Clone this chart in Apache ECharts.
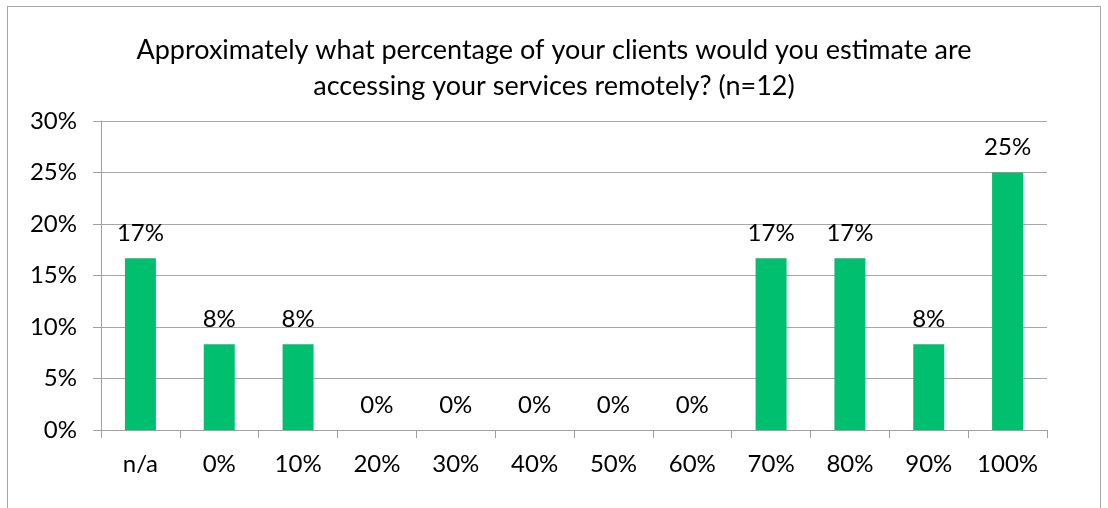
<!DOCTYPE html>
<html>
<head>
<meta charset="utf-8">
<script src="https://cdn.jsdelivr.net/npm/echarts@6/dist/echarts.min.js"></script>
<style>
  html, body { margin: 0; padding: 0; background: #fff; }
  #frame { position: absolute; left: 7px; top: 6px; width: 1094px; height: 520px; border: 1px solid #a6a6a6; box-sizing: border-box; }
  #chart { position: absolute; left: 0; top: 0; width: 1108px; height: 508px; }
</style>
</head>
<body>
<div id="frame"></div>
<div id="chart"></div>
<script>
// Share of clients accessing services remotely, by response bucket (n=12)
const categories = ['n/a', '0%', '10%', '20%', '30%', '40%', '50%', '60%', '70%', '80%', '90%', '100%'];
const responseCounts = [2, 1, 1, 0, 0, 0, 0, 0, 2, 2, 1, 3];
const respondents = 12;
const sharePercent = responseCounts.map(c => c / respondents * 100);
const yTicks = [0, 5, 10, 15, 20, 25, 30];

const titleText = 'Approximately what percentage of your clients would you estimate are\naccessing your services remotely? (n=12)';
const FONT = 'Lato, "Open Sans", sans-serif';

const chart = echarts.init(document.getElementById('chart'), null, { renderer: 'canvas' });
chart.setOption({
  animation: false,
  backgroundColor: 'transparent',
  title: {
    text: titleText,
    left: 'center',
    top: 27,
    textStyle: { fontFamily: FONT, fontSize: 27, fontWeight: 'normal', color: '#000', lineHeight: 36 }
  },
  grid: { left: 101, right: 61, top: 121, bottom: 78 },
  xAxis: {
    type: 'category',
    data: categories,
    axisLine: { lineStyle: { color: '#a0a0a0', width: 1 } },
    axisTick: { show: true, interval: 0, length: 8, alignWithLabel: false, lineStyle: { color: '#a0a0a0' } },
    axisLabel: { interval: 0, fontFamily: FONT, fontSize: 24, color: '#000', margin: 22 }
  },
  yAxis: {
    type: 'value',
    min: yTicks[0],
    max: yTicks[yTicks.length - 1],
    interval: yTicks[1] - yTicks[0],
    axisLine: { show: true, lineStyle: { color: '#a0a0a0', width: 1 } },
    axisTick: { show: true, length: 8, lineStyle: { color: '#a0a0a0' } },
    splitLine: { lineStyle: { color: '#a6a6a6', width: 1 } },
    axisLabel: { fontFamily: FONT, fontSize: 24, color: '#000', margin: 24, formatter: v => v + '%' }
  },
  series: [{
    type: 'bar',
    data: sharePercent,
    barWidth: 31,
    itemStyle: { color: '#00bf6f' },
    label: {
      show: true,
      position: 'top',
      distance: 13,
      fontFamily: FONT,
      fontSize: 24,
      color: '#000',
      formatter: p => Math.round(p.value) + '%'
    }
  }]
});
</script>
</body>
</html>
